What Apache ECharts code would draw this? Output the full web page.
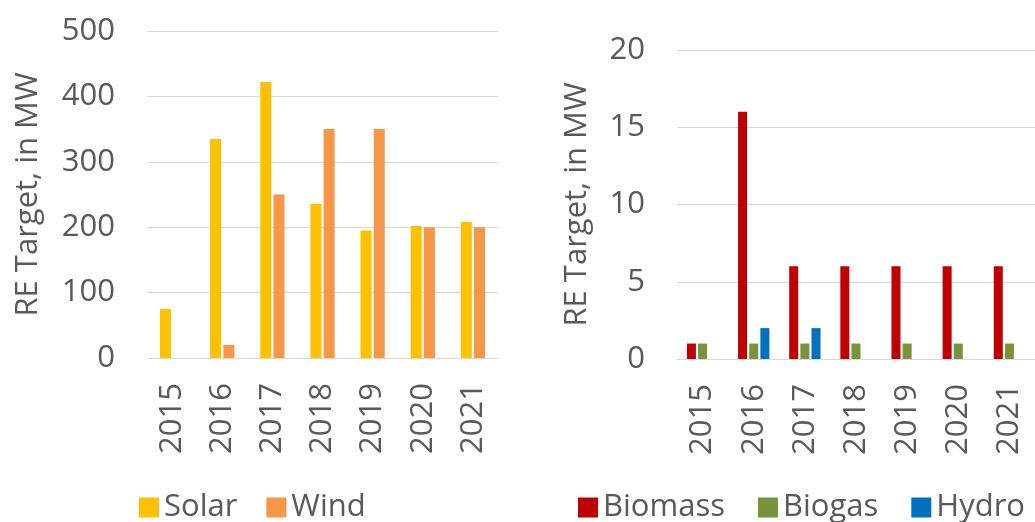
<!DOCTYPE html>
<html>
<head>
<meta charset="utf-8">
<script src="https://cdn.jsdelivr.net/npm/echarts@6/dist/echarts.min.js"></script>
<style>
  html, body { margin: 0; padding: 0; background: #fff; }
  #chart { width: 1035px; height: 522px; }
</style>
</head>
<body>
<div id="chart"></div>
<script>
  // values
  var years = ['2015', '2016', '2017', '2018', '2019', '2020', '2021'];
  var solar = [75, 335, 422, 236, 195, 202, 208];
  var wind = [null, 20, 250, 350, 350, 200, 200];
  var biomass = [1, 16, 6, 6, 6, 6, 6];
  var biogas = [1, 1, 1, 1, 1, 1, 1];
  var hydro = [null, 2, 2, null, null, null, null];

  var font = '"Open Sans", sans-serif';
  var textColor = '#595959';
  var gridColor = '#d9d9d9';
  var fontSize = 31;

  function xAxisOf(idx) {
    return {
      type: 'category',
      gridIndex: idx,
      data: years,
      axisLine: { lineStyle: { color: gridColor, width: 1 } },
      axisTick: { show: false },
      axisLabel: {
        rotate: 90,
        margin: 25,
        color: textColor,
        fontFamily: font,
        fontSize: fontSize,
        interval: 0
      }
    };
  }

  function yAxisOf(idx, max, interval, gap) {
    return {
      type: 'value',
      gridIndex: idx,
      min: 0,
      max: max,
      interval: interval,
      name: 'RE Target, in MW',
      nameLocation: 'middle',
      nameGap: gap,
      nameTextStyle: { color: textColor, fontFamily: font, fontSize: fontSize },
      axisLine: { show: false },
      axisTick: { show: false },
      splitLine: { lineStyle: { color: gridColor, width: 1 } },
      axisLabel: { color: textColor, fontFamily: font, fontSize: fontSize, margin: 32 }
    };
  }

  var legendText = { color: textColor, fontFamily: font, fontSize: fontSize };

  var myChart = echarts.init(document.getElementById('chart'));
  var option = {
    animation: false,
    backgroundColor: '#fff',
    grid: [
      { left: 147, top: 31, width: 351, height: 327 },
      { left: 677, top: 50, width: 369, height: 309 }
    ],
    legend: [{
      left: 134,
      top: 487,
      itemWidth: 20,
      itemHeight: 20,
      itemGap: 29,
      icon: 'rect',
      textStyle: legendText,
      data: ['Solar', 'Wind']
    }, {
      left: 573,
      top: 487,
      itemWidth: 20,
      itemHeight: 20,
      itemGap: 33,
      icon: 'rect',
      textStyle: legendText,
      data: ['Biomass', 'Biogas', 'Hydro']
    }],
    xAxis: [xAxisOf(0), xAxisOf(1)],
    yAxis: [yAxisOf(0, 500, 100, 103), yAxisOf(1, 20, 5, 84)],
    series: [
      { name: 'Solar', type: 'bar', xAxisIndex: 0, yAxisIndex: 0, data: solar, barWidth: 11, barGap: '20%', itemStyle: { color: '#ffc000' } },
      { name: 'Wind', type: 'bar', xAxisIndex: 0, yAxisIndex: 0, data: wind, barWidth: 11, barGap: '20%', itemStyle: { color: '#f79646' } },
      { name: 'Biomass', type: 'bar', xAxisIndex: 1, yAxisIndex: 1, data: biomass, barWidth: 9, barGap: '24%', itemStyle: { color: '#c00000' } },
      { name: 'Biogas', type: 'bar', xAxisIndex: 1, yAxisIndex: 1, data: biogas, barWidth: 9, barGap: '24%', itemStyle: { color: '#77933c' } },
      { name: 'Hydro', type: 'bar', xAxisIndex: 1, yAxisIndex: 1, data: hydro, barWidth: 9, barGap: '24%', itemStyle: { color: '#0070c0' } }
    ]
  };
  myChart.setOption(option);
</script>
</body>
</html>
